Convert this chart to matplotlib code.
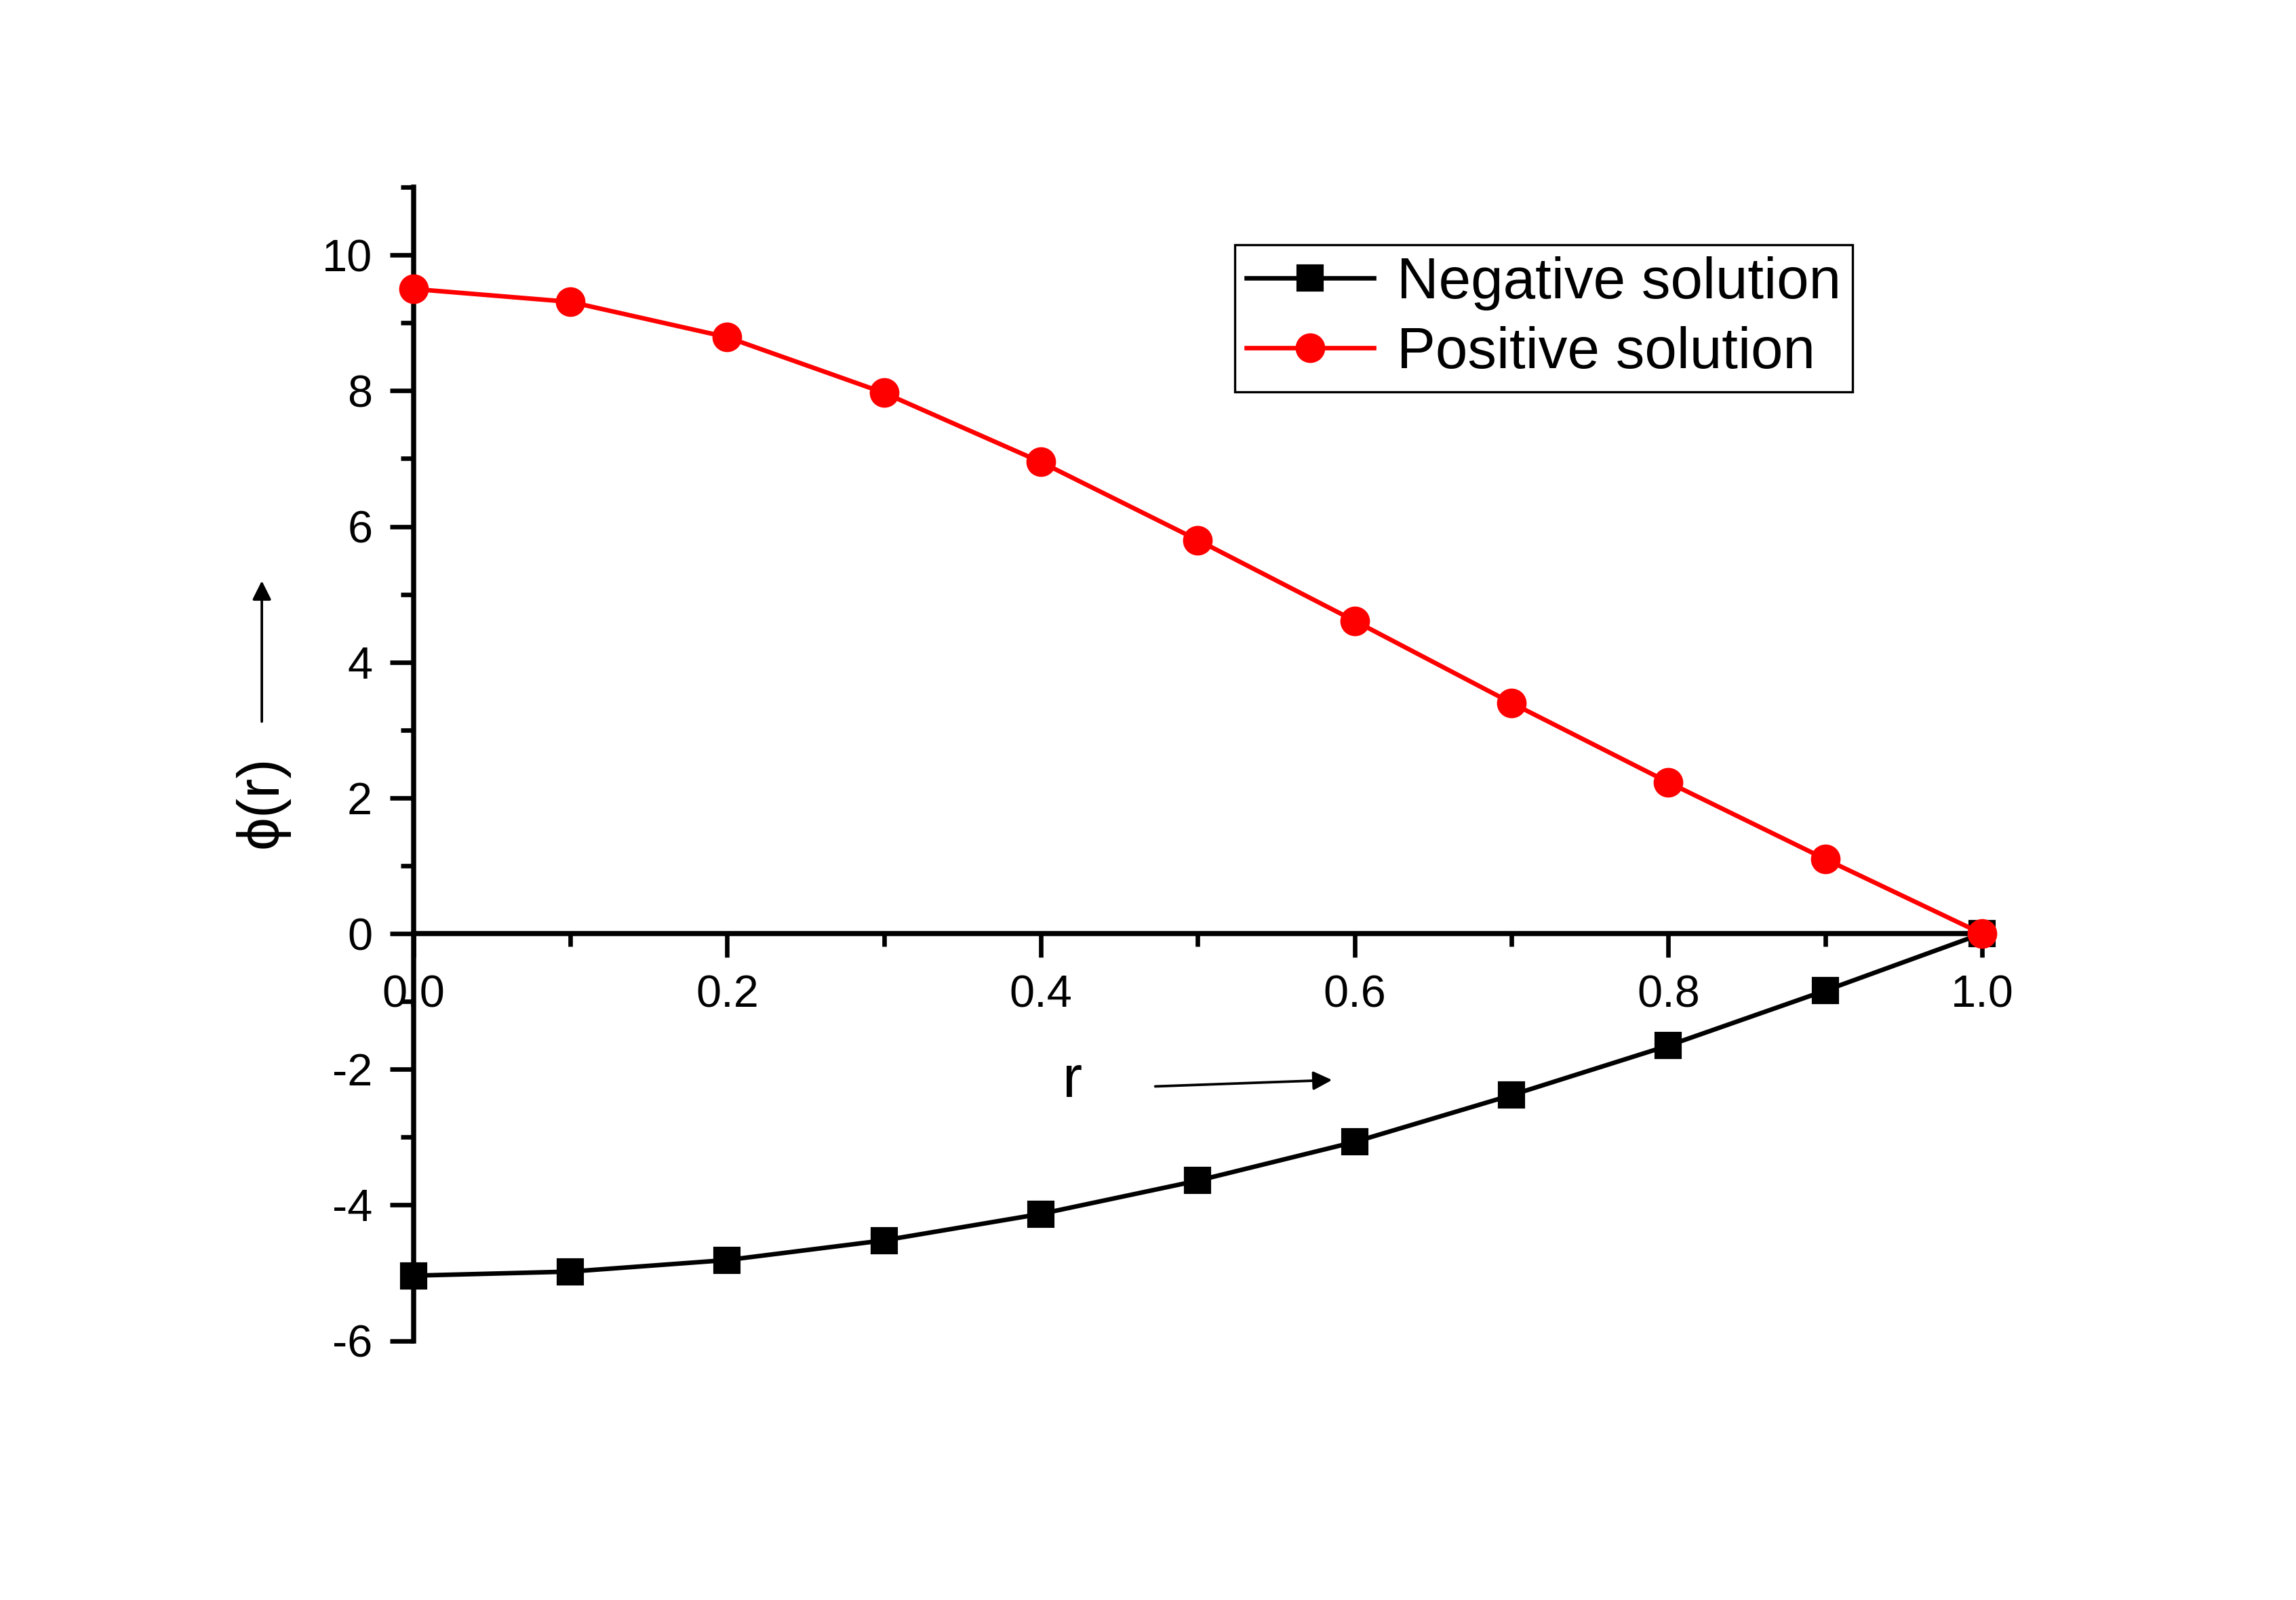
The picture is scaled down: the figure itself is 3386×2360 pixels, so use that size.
import matplotlib
matplotlib.use("Agg")
import matplotlib.pyplot as plt
from matplotlib.ticker import MultipleLocator, FormatStrFormatter

plt.rcParams["font.family"] = ["Liberation Sans", "DejaVu Sans"]
plt.rcParams["axes.unicode_minus"] = False

# values
r_values = [0.0, 0.1, 0.2, 0.3, 0.4, 0.5, 0.6, 0.7, 0.8, 0.9, 1.0]
negative_solution = [-5.04, -4.98, -4.81, -4.52, -4.13, -3.64, -3.07, -2.38, -1.65, -0.84, 0.0]
positive_solution = [9.50, 9.31, 8.79, 7.97, 6.95, 5.80, 4.61, 3.40, 2.23, 1.10, 0.0]

fig = plt.figure(figsize=(3387 / 300, 2360 / 300), dpi=300)
ax = fig.add_axes([0.180, 0.162, 0.683, 0.721])

ax.plot(r_values, negative_solution, color="black", lw=1.6, marker="s",
        markersize=8.5, label="Negative solution", clip_on=False, zorder=3)
ax.plot(r_values, positive_solution, color="red", lw=1.6, marker="o",
        markersize=9.5, label="Positive solution", clip_on=False, zorder=4)

ax.set_xlim(0, 1.0)
ax.set_ylim(-6, 11)

ax.spines["top"].set_visible(False)
ax.spines["right"].set_visible(False)
ax.spines["bottom"].set_position(("data", 0))
for side in ("left", "bottom"):
    ax.spines[side].set_linewidth(1.8)

ax.xaxis.set_major_locator(MultipleLocator(0.2))
ax.xaxis.set_minor_locator(MultipleLocator(0.1))
ax.xaxis.set_major_formatter(FormatStrFormatter("%.1f"))
ax.yaxis.set_major_locator(MultipleLocator(2))
ax.yaxis.set_minor_locator(MultipleLocator(1))
ax.set_yticks(range(-6, 11, 2))

ax.tick_params(axis="both", which="major", direction="out", length=8.5,
               width=1.6, labelsize=16, pad=6)
ax.tick_params(axis="both", which="minor", direction="out", length=4.5, width=1.6)

# legend
ax.legend(loc="upper left", bbox_to_anchor=(0.5375, 0.847),
          bbox_transform=fig.transFigure, fontsize=20.5, frameon=True,
          fancybox=False, edgecolor="black", framealpha=1, handlelength=2.2,
          handletextpad=0.4, borderpad=0.2, labelspacing=0.27, borderaxespad=0)
ax.get_legend().get_frame().set_linewidth(0.8)

# axis labels with arrows
fig.text(0.114, 0.499, "ϕ(r)", rotation=90, fontsize=21, ha="center", va="center")
fig.text(0.467, 0.324, "r", fontsize=21, ha="center", va="center")

arrow = dict(arrowstyle="-|>", color="black", lw=0.9, mutation_scale=14,
             shrinkA=0, shrinkB=0)
ax.annotate("", xy=(0.114, 0.637), xytext=(0.114, 0.549),
            xycoords="figure fraction", textcoords="figure fraction",
            arrowprops=arrow)
ax.annotate("", xy=(0.580, 0.325), xytext=(0.503, 0.321),
            xycoords="figure fraction", textcoords="figure fraction",
            arrowprops=arrow)

fig.savefig("out.png", dpi=300)
